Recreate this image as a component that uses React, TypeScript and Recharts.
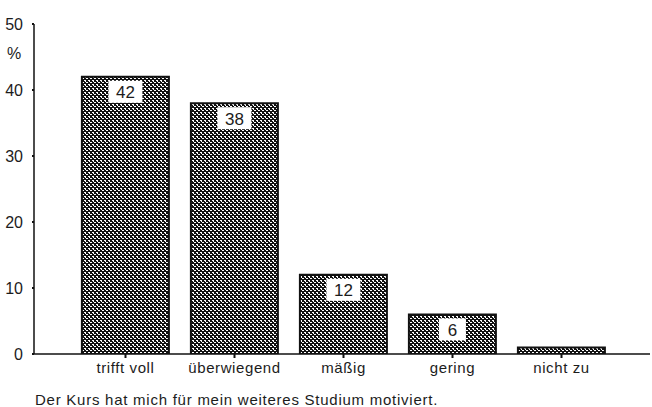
import React from "react";
import { BarChart, Bar, XAxis, YAxis, LabelList } from "recharts";

const categories = ["trifft voll", "überwiegend", "mäßig", "gering", "nicht zu"];
const values = [42, 38, 12, 6, 1];
const valueLabels = ["42", "38", "12", "6", ""];
const yTicks = [0, 10, 20, 30, 40, 50];
const unitLabel = "%";
const caption = "Der Kurs hat mich für mein weiteres Studium motiviert.";

const data = categories.map((c, i) => ({ cat: c, v: values[i], lbl: valueLabels[i] }));

const FONT = "'Liberation Sans', Arial, Helvetica, sans-serif";
const INK = "#1c1c1c";

const YTick = (props: any) => {
  const { x, y, payload } = props;
  return (
    <g>
      <text x={x - 7} y={y} textAnchor="end" dominantBaseline="central" fontSize={16} fill={INK} fontFamily={FONT}>
        {payload.value}
      </text>
      {payload.value === 50 ? (
        <text x={x - 16} y={y + 29} textAnchor="middle" dominantBaseline="central" fontSize={16} fill={INK} fontFamily={FONT}>
          {unitLabel}
        </text>
      ) : null}
    </g>
  );
};

const XTick = (props: any) => {
  const { x, y, payload } = props;
  return (
    <text x={x} y={y} dy="0.71em" textAnchor="middle" fontSize={15} letterSpacing={0.6} fill={INK} fontFamily={FONT}>
      {payload.value}
    </text>
  );
};

const ValueBox = (props: any) => {
  const { x, y, width, value } = props;
  if (!value) return null;
  const s = String(value);
  const w = s.length > 1 ? 34 : 27;
  const h = 22;
  const cx = x + width / 2;
  return (
    <g>
      <rect x={cx - w / 2} y={y + 4} width={w} height={h} fill="#fff" />
      <text x={cx} y={y + 4 + h / 2 + 1} textAnchor="middle" dominantBaseline="central" fontSize={17} fill={INK} fontFamily={FONT}>
        {s}
      </text>
    </g>
  );
};

export default function App() {
  return (
    <div style={{ position: "absolute", left: 0, top: 0, width: 652, height: 407, background: "#fff", fontFamily: FONT }}>
      <BarChart
        width={652}
        height={407}
        data={data}
        margin={{ top: 24, right: 2, bottom: 23, left: 0 }}
        barCategoryGap="10%"
      >
        <defs>
          <pattern id="hatch" width="4" height="4" patternUnits="userSpaceOnUse">
            <rect x="0" y="0" width="4" height="4" fill="#111" />
            <rect x="0" y="0" width="2" height="1" fill="#fff" />
            <rect x="2" y="2" width="2" height="1" fill="#fff" />
            <rect x="1" y="1" width="1" height="1" fill="#fff" />
          </pattern>
        </defs>
        <XAxis
          dataKey="cat"
          height={30}
          padding={{ left: 37, right: 34 }}
          axisLine={{ stroke: "#111", strokeWidth: 1.5 }}
          tickLine={{ stroke: "#111", strokeWidth: 2 }}
          tickSize={4}
          tickMargin={4}
          tick={<XTick />}
          interval={0}
        />
        <YAxis
          width={34}
          domain={[0, 50]}
          ticks={yTicks}
          allowDataOverflow
          axisLine={{ stroke: "#111", strokeWidth: 1.5 }}
          tickLine={{ stroke: "#111", strokeWidth: 2 }}
          tickSize={2}
          tick={<YTick />}
        />
        <Bar dataKey="v" fill="url(#hatch)" stroke="#111" strokeWidth={2} isAnimationActive={false}>
          <LabelList dataKey="lbl" content={<ValueBox />} />
        </Bar>
      </BarChart>
      <div
        style={{
          position: "absolute",
          left: 35,
          top: 391,
          fontSize: 15,
          letterSpacing: "0.75px",
          color: INK,
          fontFamily: FONT,
          whiteSpace: "nowrap",
          lineHeight: "17px",
        }}
      >
        {caption}
      </div>
    </div>
  );
}
